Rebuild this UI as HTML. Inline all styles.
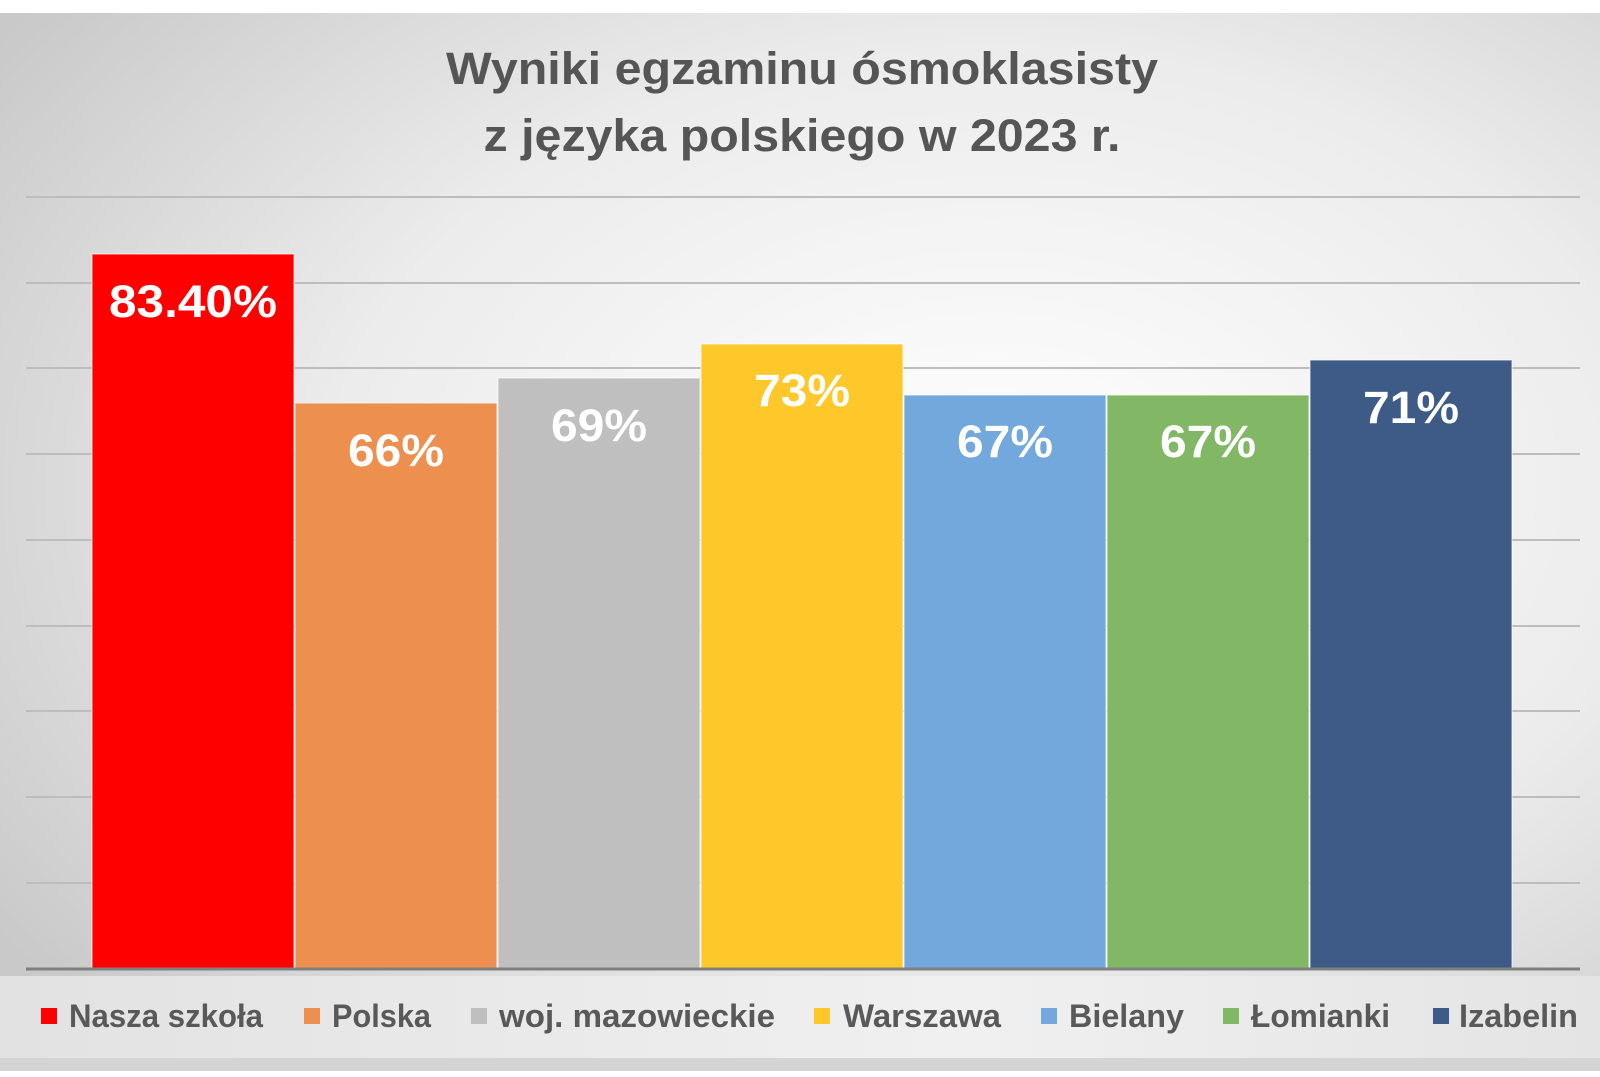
<!DOCTYPE html>
<html><head><meta charset="utf-8"><style>
html,body{margin:0;padding:0;background:#fff;}
svg{display:block;}
text{font-family:"Liberation Sans",sans-serif;font-weight:bold;}
</style></head><body>
<svg width="1600" height="1077" viewBox="0 0 1600 1077" xmlns="http://www.w3.org/2000/svg">
<defs>
<radialGradient id="bg" cx="0.62" cy="0.45" r="0.75">
<stop offset="0" stop-color="#ffffff"/>
<stop offset="0.55" stop-color="#ececec"/>
<stop offset="1" stop-color="#c9c9c9"/>
</radialGradient>
<linearGradient id="lg" x1="0" y1="0" x2="1" y2="0">
<stop offset="0" stop-color="#e2e2e2"/>
<stop offset="0.6" stop-color="#f0f0f0"/>
<stop offset="1" stop-color="#e4e4e4"/>
</linearGradient>
</defs>
<rect x="0" y="0" width="1600" height="1077" fill="#fff"/>
<rect x="0" y="13" width="1600" height="1058" fill="url(#bg)"/>
<rect x="0" y="976" width="1600" height="82" fill="url(#lg)"/>
<rect x="0" y="1058" width="1600" height="13" fill="#d4d4d4"/>
<g stroke="#bdbdbd" stroke-width="2">
<line x1="26" y1="197" x2="1580" y2="197"/>
<line x1="26" y1="283" x2="1580" y2="283"/>
<line x1="26" y1="368" x2="1580" y2="368"/>
<line x1="26" y1="454" x2="1580" y2="454"/>
<line x1="26" y1="540" x2="1580" y2="540"/>
<line x1="26" y1="626" x2="1580" y2="626"/>
<line x1="26" y1="711" x2="1580" y2="711"/>
<line x1="26" y1="797" x2="1580" y2="797"/>
<line x1="26" y1="883" x2="1580" y2="883"/>
</g>
<g stroke="#ffffff" stroke-width="1.5" stroke-opacity="0.5">
<rect x="92" y="254" width="202" height="715" fill="#ff0000"/>
<rect x="295" y="403" width="202" height="566" fill="#ed8f4f"/>
<rect x="498" y="378" width="202" height="591" fill="#bfbfbf"/>
<rect x="701" y="344" width="202" height="625" fill="#ffc82a"/>
<rect x="904" y="395" width="202" height="574" fill="#72a8db"/>
<rect x="1107" y="395" width="202" height="574" fill="#82b865"/>
<rect x="1310" y="360" width="202" height="609" fill="#3e5a86"/>
</g>
<line x1="26" y1="969" x2="1580" y2="969" stroke="#7f7f7f" stroke-width="3"/>
<g fill="#555555" font-size="45" text-anchor="middle">
<text x="802" y="84" textLength="712" lengthAdjust="spacingAndGlyphs">Wyniki egzaminu ósmoklasisty</text>
<text x="802" y="151" textLength="637" lengthAdjust="spacingAndGlyphs">z języka polskiego w 2023 r.</text>
</g>
<g fill="#ffffff" font-size="45" text-anchor="middle">
<text x="193" y="317" textLength="168" lengthAdjust="spacingAndGlyphs">83.40%</text>
<text x="396" y="466" textLength="96" lengthAdjust="spacingAndGlyphs">66%</text>
<text x="599" y="441" textLength="96" lengthAdjust="spacingAndGlyphs">69%</text>
<text x="802" y="406" textLength="96" lengthAdjust="spacingAndGlyphs">73%</text>
<text x="1005" y="457" textLength="96" lengthAdjust="spacingAndGlyphs">67%</text>
<text x="1208" y="457" textLength="96" lengthAdjust="spacingAndGlyphs">67%</text>
<text x="1411" y="423" textLength="96" lengthAdjust="spacingAndGlyphs">71%</text>
</g>
<g>
<rect x="41" y="1008" width="16" height="16" fill="#ff0000"/>
<rect x="304" y="1008" width="16" height="16" fill="#ed8f4f"/>
<rect x="471" y="1008" width="16" height="16" fill="#bfbfbf"/>
<rect x="814" y="1008" width="16" height="16" fill="#ffc82a"/>
<rect x="1041" y="1008" width="16" height="16" fill="#72a8db"/>
<rect x="1223" y="1008" width="16" height="16" fill="#82b865"/>
<rect x="1433" y="1008" width="16" height="16" fill="#3e5a86"/>
</g>
<g fill="#595959" font-size="32">
<text x="69" y="1027" textLength="194" lengthAdjust="spacingAndGlyphs">Nasza szkoła</text>
<text x="332" y="1027" textLength="99" lengthAdjust="spacingAndGlyphs">Polska</text>
<text x="499" y="1027" textLength="276" lengthAdjust="spacingAndGlyphs">woj. mazowieckie</text>
<text x="843" y="1027" textLength="158" lengthAdjust="spacingAndGlyphs">Warszawa</text>
<text x="1069" y="1027" textLength="115" lengthAdjust="spacingAndGlyphs">Bielany</text>
<text x="1251" y="1027" textLength="139" lengthAdjust="spacingAndGlyphs">Łomianki</text>
<text x="1459" y="1027" textLength="119" lengthAdjust="spacingAndGlyphs">Izabelin</text>
</g>
</svg>
</body></html>
